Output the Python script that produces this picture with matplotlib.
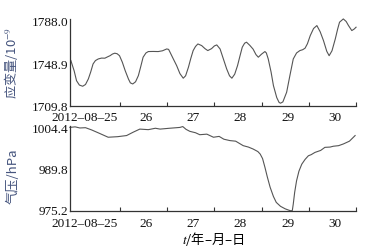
import matplotlib
matplotlib.use('Agg')
import matplotlib.pyplot as plt

# time axis: days since 2012-08-25 00:00
t_strain = [-0.04, 0.03, 0.08, 0.14, 0.21, 0.27, 0.33, 0.38, 0.43, 0.48,
            0.54, 0.61, 0.68, 0.74, 0.79, 0.84, 0.89, 0.94, 0.99, 1.05,
            1.11, 1.18, 1.22, 1.27, 1.33, 1.39, 1.44, 1.49, 1.55, 1.60,
            1.70, 1.81, 1.90, 1.99, 2.03, 2.06, 2.13, 2.20, 2.27, 2.34,
            2.39, 2.45, 2.50, 2.55, 2.60, 2.65, 2.73, 2.80, 2.86, 2.94,
            3.00, 3.05, 3.12, 3.19, 3.26, 3.32, 3.37, 3.43, 3.49, 3.54,
            3.59, 3.64, 3.68, 3.75, 3.82, 3.88, 3.93, 4.00, 4.07, 4.10,
            4.14, 4.20, 4.25, 4.32, 4.37, 4.40, 4.45, 4.53, 4.60, 4.67,
            4.74, 4.81, 4.87, 4.92, 4.97, 5.03, 5.10, 5.17, 5.24, 5.31,
            5.38, 5.43, 5.49, 5.56, 5.61, 5.65, 5.73, 5.79, 5.84, 5.91,
            5.96, 6.00]
strain = [1751.5, 1742.0, 1733.0, 1729.0, 1727.9, 1729.5, 1734.6, 1741.0, 1748.4, 1751.5,
          1753.0, 1753.8, 1753.7, 1755.0, 1756.0, 1757.5, 1758.3, 1757.8, 1756.0, 1750.0,
          1742.3, 1734.5, 1731.0, 1730.0, 1732.0, 1737.7, 1746.0, 1754.6, 1758.5, 1759.8,
          1759.9, 1759.8, 1760.5, 1762.2, 1761.8, 1759.2, 1753.0, 1746.9, 1739.5, 1735.3,
          1737.5, 1745.4, 1753.5, 1760.7, 1764.5, 1766.8, 1765.3, 1762.5, 1760.7, 1762.5,
          1765.0, 1765.9, 1762.2, 1753.0, 1743.8, 1737.5, 1735.3, 1739.0, 1746.9, 1755.5,
          1763.8, 1767.5, 1768.4, 1765.5, 1762.0, 1757.0, 1754.6, 1757.5, 1759.8, 1758.5,
          1753.0, 1741.0, 1728.5, 1717.5, 1713.0, 1712.3, 1713.5, 1722.4, 1738.0, 1753.0,
          1758.5, 1760.7, 1761.5, 1762.9, 1767.0, 1774.5, 1781.0, 1783.7, 1778.0, 1769.9,
          1760.0, 1756.0, 1760.5, 1771.4, 1780.5, 1786.8, 1789.8, 1787.5, 1783.7, 1779.1,
          1780.5, 1782.2]

t_press = [-0.06, 0.05, 0.15, 0.27, 0.40, 0.55, 0.75, 0.95, 1.14, 1.28,
           1.42, 1.60, 1.75, 1.85, 2.05, 2.20, 2.27, 2.33, 2.40, 2.48,
           2.60, 2.69, 2.84, 2.98, 3.10, 3.20, 3.33, 3.45, 3.61, 3.72,
           3.82, 3.92, 3.97, 4.02, 4.07, 4.12, 4.18, 4.25, 4.31, 4.40,
           4.50, 4.58, 4.62, 4.65, 4.67, 4.70, 4.74, 4.79, 4.85, 4.92,
           4.99, 5.05, 5.13, 5.25, 5.34, 5.45, 5.52, 5.63, 5.73, 5.86,
           5.98]
pressure = [1004.6, 1004.8, 1004.4, 1004.5, 1003.7, 1002.6, 1001.1, 1001.3, 1001.7, 1002.9,
            1004.0, 1003.8, 1004.3, 1004.0, 1004.3, 1004.5, 1004.6, 1004.9, 1003.9, 1003.2,
            1002.7, 1002.0, 1002.2, 1001.1, 1001.4, 1000.4, 999.9, 999.7, 998.1, 997.6,
            996.9, 996.0, 995.1, 993.5, 990.4, 987.0, 983.3, 980.0, 977.9, 976.5,
            975.6, 975.1, 974.9, 975.0, 977.3, 981.5, 985.6, 989.0, 991.5, 993.2,
            994.5, 994.9, 995.7, 996.4, 997.5, 997.6, 997.9, 998.1, 998.7, 999.7,
            1001.7]

day_ticks = [1, 2, 3, 4, 5, 6]
label_pos = [0.25, 1.55, 2.55, 3.55, 4.55, 5.55]
day_labels = ['2012\u201308\u201325', '26', '27', '28', '29', '30']

plt.rcParams['font.family'] = ['Liberation Serif', 'Noto Sans CJK SC']
plt.rcParams['mathtext.fontset'] = 'stix'

fig = plt.figure(figsize=(3.8, 2.51), dpi=100)
ax1 = fig.add_axes([0.184, 0.574, 0.753, 0.347])
ax2 = fig.add_axes([0.184, 0.155, 0.753, 0.339])

line_col = '#555555'
lab_col = '#46557e'
cjk = ['Noto Sans CJK SC', 'Liberation Serif']

ax1.plot(t_strain, strain, color=line_col, lw=0.8, clip_on=False)
ax1.set_ylim(1709.8, 1789.9)
ax1.set_yticks([1709.8, 1748.9, 1788.0])
ax1.set_yticklabels(['1709.8', '1748.9', '1788.0'])
ax1.set_ylabel('应变量/10$^{-9}$', color=lab_col, fontsize=9.5, family=cjk)
ax1.yaxis.set_label_coords(-0.175, 0.5)

ax2.plot(t_press, pressure, color=line_col, lw=0.8, clip_on=False)
ax2.set_ylim(974.8, 1005.1)
ax2.set_yticks([975.2, 989.8, 1004.4])
ax2.set_yticklabels(['975.2', '989.8', '1004.4'])
ax2.set_ylabel('气压/hPa', color=lab_col, fontsize=9.5, family=cjk)
ax2.yaxis.set_label_coords(-0.175, 0.42)
ax2.set_xlabel('$\\it{t}$/年\u2013月\u2013日', fontsize=9.5, family=cjk, labelpad=0)

for ax, pad in [(ax1, 4.0), (ax2, 4.5)]:
    ax.set_xlim(-0.06, 6.0)
    for s in ['top', 'right']:
        ax.spines[s].set_visible(False)
    for s in ['left', 'bottom']:
        ax.spines[s].set_color('#333333')
        ax.spines[s].set_linewidth(0.9)
    ax.set_xticks(day_ticks)
    ax.set_xticklabels([])
    ax.set_xticks(label_pos, minor=True)
    ax.set_xticklabels(day_labels, minor=True)
    ax.tick_params(axis='x', which='major', direction='in', length=3, width=0.8, color='#333333')
    ax.tick_params(axis='x', which='minor', length=0, pad=pad, labelsize=9.5, labelcolor='#111111')
    ax.tick_params(axis='y', length=0, pad=1, labelsize=9.5, labelcolor='#111111')

fig.savefig('out.png', dpi=100)
